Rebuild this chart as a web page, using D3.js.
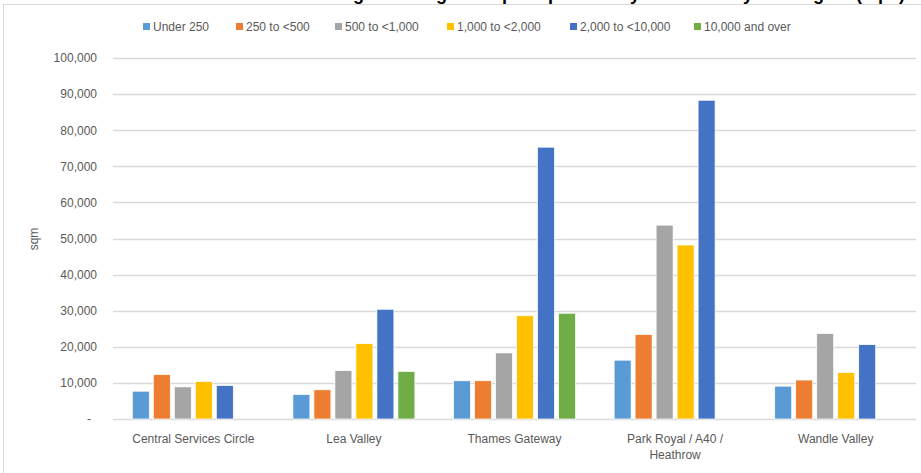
<!DOCTYPE html>
<html>
<head>
<meta charset="utf-8">
<script src="https://cdn.jsdelivr.net/npm/d3@7"></script>
<style>
  html, body { margin: 0; padding: 0; background: #fff; }
  svg { display: block; font-family: "Liberation Sans", Arial, sans-serif; }
</style>
</head>
<body>
<svg id="chart" width="921" height="473"></svg>
<script>
// ---- data ----
const categories = ["Central Services Circle", "Lea Valley", "Thames Gateway", "Park Royal / A40 / Heathrow", "Wandle Valley"];
const seriesNames = ["Under 250", "250 to <500", "500 to <1,000", "1,000 to <2,000", "2,000 to <10,000", "10,000 and over"];
const under250      = [7700, 6800, 10600, 16300, 9100];
const from250to500  = [12300, 8100, 10600, 23400, 10800];
const from500to1k   = [8900, 13400, 18300, 53700, 23700];
const from1kto2k    = [10400, 20900, 28600, 48200, 12900];
const from2kto10k   = [9300, 30400, 75300, 88300, 20600];
const over10k       = [0, 13200, 29300, 0, 0];
const seriesValues = [under250, from250to500, from500to1k, from1kto2k, from2kto10k, over10k];
const yTicks = [0, 10000, 20000, 30000, 40000, 50000, 60000, 70000, 80000, 90000, 100000];
const colors = ["#5B9BD5", "#ED7D31", "#A5A5A5", "#FFC000", "#4472C4", "#70AD47"];
const titleText = "Average existing floorspace per unit by size band by sub-region (sqm)";

// ---- layout ----
const svg = d3.select("#chart");
const plot = { left: 113, right: 916, top: 58, bottom: 419 };
const textColor = "#595959";

// frame
svg.append("rect").attr("x", 3.5).attr("y", 4.5).attr("width", 940).attr("height", 500)
  .attr("fill", "none").attr("stroke", "#d9d9d9").attr("stroke-width", 1);

// cropped title
svg.append("text").attr("x", 905).attr("y", 0).attr("text-anchor", "end")
  .attr("font-size", 18).attr("font-weight", "bold").attr("fill", "#000")
  .text(titleText);

const y = d3.scaleLinear().domain([0, 100000]).range([plot.bottom, plot.top]);
const x0 = d3.scaleBand().domain(categories).range([plot.left, plot.right]).padding(0);
const x1 = d3.scaleBand().domain(seriesNames).range([0, x0.bandwidth()])
  .paddingInner(0.19).paddingOuter(0.919);

// gridlines
svg.append("g").selectAll("line").data(yTicks).join("line")
  .attr("x1", plot.left).attr("x2", plot.right)
  .attr("y1", d => Math.round(y(d)) + 0.5).attr("y2", d => Math.round(y(d)) + 0.5)
  .attr("stroke", "#d9d9d9").attr("stroke-width", 1.3);

// y axis labels
const fmt = d3.format(",");
const yAxis = d3.axisLeft(y).tickValues(yTicks).tickSize(0).tickPadding(0)
  .tickFormat(d => d === 0 ? "-" : fmt(d));
const gy = svg.append("g").attr("transform", `translate(97,0)`).call(yAxis);
gy.select(".domain").remove();
gy.selectAll("text").attr("font-size", 12).attr("fill", textColor)
  .attr("font-family", "Liberation Sans, Arial, sans-serif")
  .attr("dx", d => d === 0 ? -6 : 0);

// y axis title
svg.append("text").attr("transform", "translate(38,239) rotate(-90)")
  .attr("text-anchor", "middle").attr("font-size", 12).attr("fill", textColor).text("sqm");

// bars
const flat = [];
categories.forEach((c, ci) => seriesNames.forEach((s, si) => {
  const v = seriesValues[si][ci];
  if (v > 0) flat.push({ c, s, v, si });
}));
svg.append("g").selectAll("rect").data(flat).join("rect")
  .attr("x", d => x0(d.c) + x1(d.s))
  .attr("y", d => y(d.v))
  .attr("width", x1.bandwidth())
  .attr("height", d => y(0) - y(d.v))
  .attr("fill", d => colors[d.si])
  .attr("stroke", "#ffffff").attr("stroke-width", 0.75);

// x axis labels
const xAxis = d3.axisBottom(x0).tickSize(0).tickPadding(0);
const gx = svg.append("g").attr("transform", `translate(0,${plot.bottom})`).call(xAxis);
gx.select(".domain").remove();
gx.selectAll("text").attr("font-size", 12).attr("fill", textColor)
  .attr("font-family", "Liberation Sans, Arial, sans-serif")
  .attr("y", 0).attr("dy", null)
  .each(function(d) {
    const t = d3.select(this);
    t.text(null);
    const words = d.split(" ");
    const lines = [];
    let line = [];
    const probe = svg.append("text").attr("font-size", 12).attr("font-family", "Liberation Sans, Arial, sans-serif");
    words.forEach(w => {
      const test = line.concat([w]).join(" ");
      probe.text(test);
      if (probe.node().getComputedTextLength() > 140 && line.length) {
        lines.push(line.join(" "));
        line = [w];
      } else line.push(w);
    });
    lines.push(line.join(" "));
    probe.remove();
    lines.forEach((l, i) => t.append("tspan").attr("x", 0).attr("y", 24 + i * 16).text(l));
  });

// legend
const legendX = [143, 236, 335, 447, 570, 694];
const lg = svg.append("g");
seriesNames.forEach((s, i) => {
  lg.append("rect").attr("x", legendX[i]).attr("y", 23).attr("width", 7).attr("height", 7).attr("fill", colors[i]);
  lg.append("text").attr("x", legendX[i] + 10).attr("y", 31).attr("font-size", 12)
    .attr("fill", textColor).text(s);
});
</script>
</body>
</html>
